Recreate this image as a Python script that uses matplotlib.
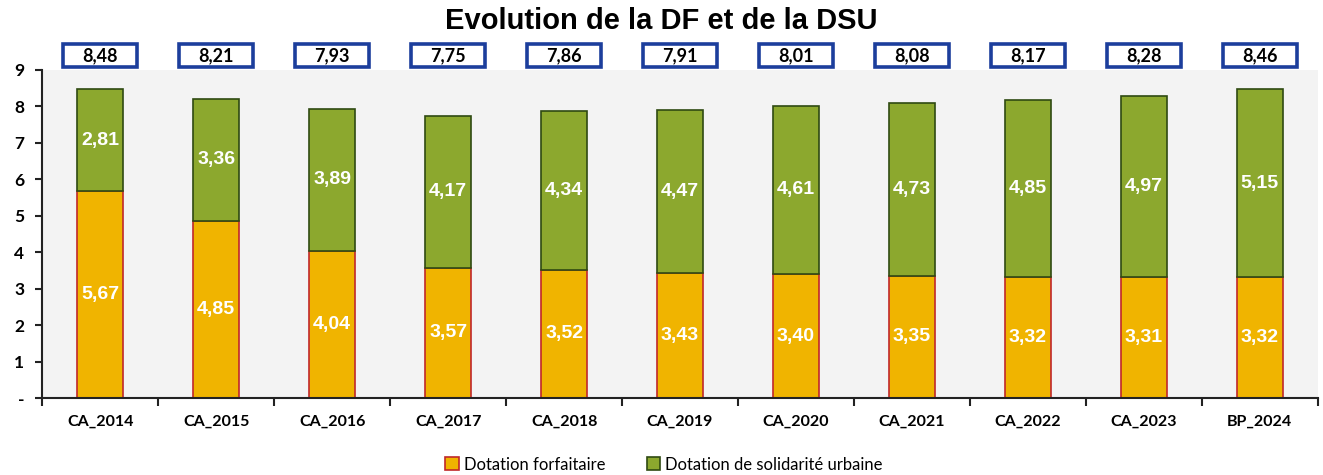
import matplotlib
matplotlib.use("Agg")
import matplotlib.pyplot as plt
from matplotlib.patches import Rectangle
from matplotlib.transforms import blended_transform_factory
import numpy as np

categories = ["CA_2014", "CA_2015", "CA_2016", "CA_2017", "CA_2018", "CA_2019",
              "CA_2020", "CA_2021", "CA_2022", "CA_2023", "BP_2024"]
forfaitaire = [5.67, 4.85, 4.04, 3.57, 3.52, 3.43, 3.40, 3.35, 3.32, 3.31, 3.32]
dsu = [2.81, 3.36, 3.89, 4.17, 4.34, 4.47, 4.61, 4.73, 4.85, 4.97, 5.15]
totals = [8.48, 8.21, 7.93, 7.75, 7.86, 7.91, 8.01, 8.08, 8.17, 8.28, 8.46]
ytick_labels = ["-", "1", "2", "3", "4", "5", "6", "7", "8", "9"]

def fr(v):
    return f"{v:.2f}".replace(".", ",")

yellow = "#f0b400"
green = "#8ca82e"

fig = plt.figure(figsize=(13.23, 4.75), dpi=100)
ax = fig.add_axes([0.032, 0.162, 0.964, 0.691])
ax.set_facecolor("#f3f3f3")

x = np.arange(len(categories))
w = 0.4
b1 = ax.bar(x, forfaitaire, w, color=yellow, edgecolor="#c0282a", linewidth=1.2,
            label="Dotation forfaitaire")
b2 = ax.bar(x, dsu, w, bottom=forfaitaire, color=green, edgecolor="#2f4a12",
            linewidth=1.2, label="Dotation de solidarité urbaine")

for i in range(len(categories)):
    ax.text(x[i], forfaitaire[i] / 2, fr(forfaitaire[i]), ha="center", va="center",
            color="white", fontsize=14, fontweight="bold", family="Liberation Sans")
    ax.text(x[i], forfaitaire[i] + dsu[i] / 2, fr(dsu[i]), ha="center", va="center",
            color="white", fontsize=14, fontweight="bold", family="Liberation Sans")

trans = blended_transform_factory(ax.transData, ax.transAxes)
for i in range(len(categories)):
    r = Rectangle((x[i] - 0.32, 1.008), 0.64, 0.07, transform=trans, clip_on=False,
                  facecolor="white", edgecolor="#1c3e9c", linewidth=2.6)
    ax.add_patch(r)
    ax.text(x[i], 1.043, fr(totals[i]), transform=trans, ha="center", va="center",
            fontsize=13, fontweight="bold", family="Lato", color="black")

ax.set_xlim(-0.5, len(categories) - 0.5)
ax.set_ylim(0, 9)
ax.set_yticks(range(10))
ax.set_yticklabels(ytick_labels, fontsize=12.5, fontweight="bold", family="Lato")
ax.set_xticks(x)
ax.set_xticklabels(categories, fontsize=11.5, fontweight="bold", family="Lato")
ax.tick_params(axis="x", length=0, pad=12)
ax.set_xticks(np.arange(-0.5, len(categories), 1), minor=True)
ax.tick_params(axis="x", which="minor", length=6, width=1.5, color="#222222")
ax.tick_params(axis="y", length=5, width=1.5, color="#222222", pad=8)
for s in ["top", "right"]:
    ax.spines[s].set_visible(False)
for s in ["left", "bottom"]:
    ax.spines[s].set_linewidth(1.5)
    ax.spines[s].set_color("#222222")

fig.text(0.5, 0.955, "Evolution de la DF et de la DSU", ha="center", va="center",
         fontsize=21, fontweight="bold", family="Liberation Sans")

leg = fig.legend(handles=[b1, b2], loc="center", bbox_to_anchor=(0.502, 0.022),
                 ncol=2, frameon=False, handlelength=0.8,
                 handleheight=0.8, handletextpad=0.3, columnspacing=2.5,
                 prop={"family": "Lato", "size": 12})

fig.savefig("out.png", dpi=100)
